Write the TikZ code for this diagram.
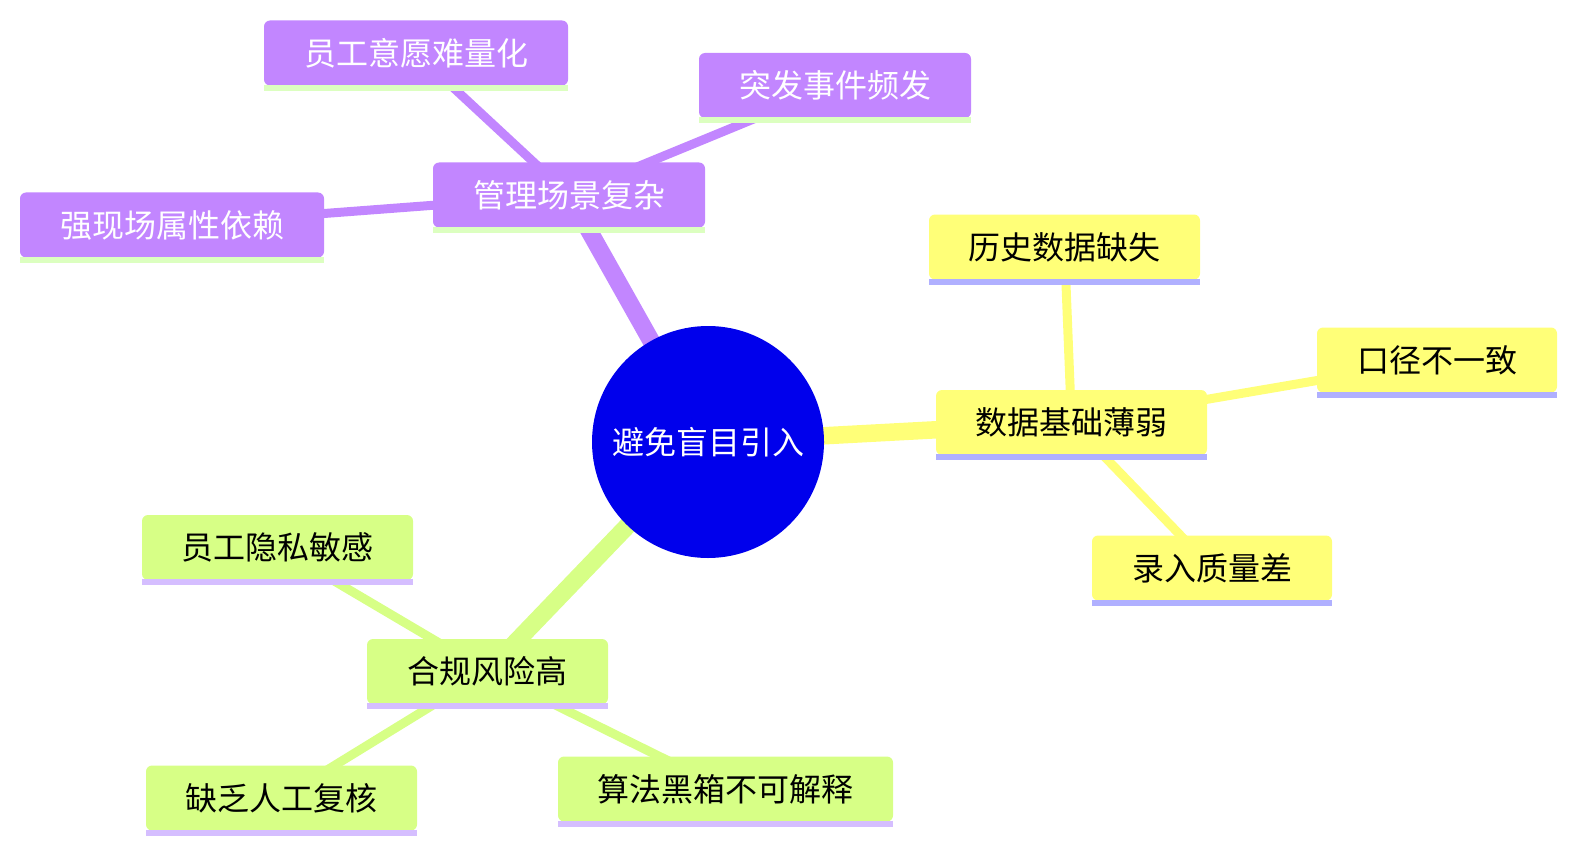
\documentclass[tikz,border=0pt]{standalone}
\usepackage{fontspec}
\setmainfont{Noto Sans CJK SC}
\usetikzlibrary{backgrounds}
\definecolor{rootblue}{HTML}{0000EC}
\definecolor{purp}{HTML}{C286FF}
\definecolor{yel}{HTML}{FFFF78}
\definecolor{grn}{HTML}{D7FF86}
\definecolor{purpU}{HTML}{DCFFC0}
\definecolor{yelU}{HTML}{B0B0FF}
\definecolor{grnU}{HTML}{D5BEFF}
\tikzset{
  box/.style={rectangle, rounded corners=6pt, minimum height=65pt, inner sep=0pt, font=\fontsize{32}{36}\selectfont},
  pbox/.style={box, fill=purp, text=white},
  ybox/.style={box, fill=yel, text=black},
  gbox/.style={box, fill=grn, text=black},
  rootnode/.style={circle, fill=rootblue, text=white, minimum size=232pt, inner sep=0pt, font=\fontsize{32}{36}\selectfont},
  rootedge/.style={line width=17.5pt},
  childedge/.style={line width=9pt},
}
\newcommand{\uline}[2]{\fill[#2] ([yshift=1pt]#1.south west) rectangle ([yshift=-5pt]#1.south east);}
\begin{document}
\begin{tikzpicture}[x=1pt,y=-1pt]
\useasboundingbox (0,0) rectangle (1576,853);
% nodes
\node[rootnode] (root) at (708,442) {避免盲目引入};
\node[pbox, minimum width=272pt] (A) at (569,195) {管理场景复杂};
\node[pbox, minimum width=304pt] (A1) at (416,53) {员工意愿难量化};
\node[pbox, minimum width=272pt] (A2) at (835,85.5) {突发事件频发};
\node[pbox, minimum width=304pt] (A3) at (172,225) {强现场属性依赖};
\node[ybox, minimum width=271pt] (B) at (1071.5,422.5) {数据基础薄弱};
\node[ybox, minimum width=271pt] (B1) at (1064.5,247) {历史数据缺失};
\node[ybox, minimum width=240pt] (B2) at (1437,360) {口径不一致};
\node[ybox, minimum width=240pt] (B3) at (1212,568) {录入质量差};
\node[gbox, minimum width=241pt] (C) at (487.5,671.5) {合规风险高};
\node[gbox, minimum width=271pt] (C1) at (277.5,547.5) {员工隐私敏感};
\node[gbox, minimum width=271pt] (C2) at (281.5,798) {缺乏人工复核};
\node[gbox, minimum width=335pt] (C3) at (725.5,789) {算法黑箱不可解释};
% underlines
\uline{A}{purpU}\uline{A1}{purpU}\uline{A2}{purpU}\uline{A3}{purpU}
\uline{B}{yelU}\uline{B1}{yelU}\uline{B2}{yelU}\uline{B3}{yelU}
\uline{C}{grnU}\uline{C1}{grnU}\uline{C2}{grnU}\uline{C3}{grnU}
% edges behind
\begin{pgfonlayer}{background}
\draw[rootedge, purp] (root.center) -- (A.center);
\draw[rootedge, yel] (root.center) -- (B.center);
\draw[rootedge, grn] (root.center) -- (C.center);
\draw[childedge, purp] (A.center) -- (A1.center);
\draw[childedge, purp] (A.center) -- (A2.center);
\draw[childedge, purp] (A.center) -- (A3.center);
\draw[childedge, yel] (B.center) -- (B1.center);
\draw[childedge, yel] (B.center) -- (B2.center);
\draw[childedge, yel] (B.center) -- (B3.center);
\draw[childedge, grn] (C.center) -- (C1.center);
\draw[childedge, grn] (C.center) -- (C2.center);
\draw[childedge, grn] (C.center) -- (C3.center);
\end{pgfonlayer}
\end{tikzpicture}
\end{document}
